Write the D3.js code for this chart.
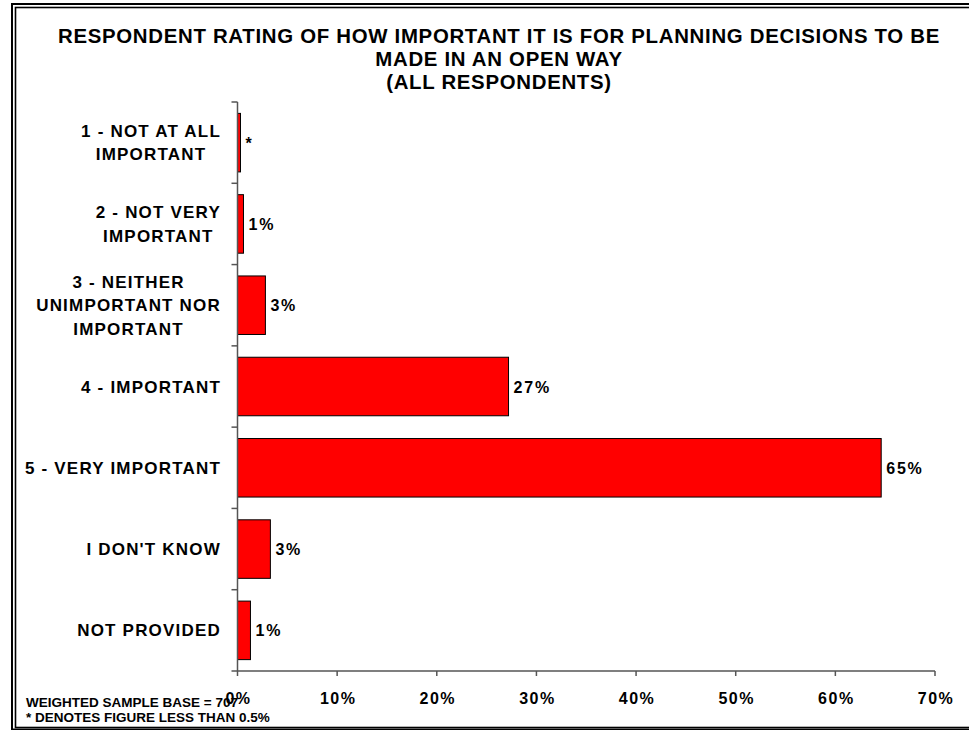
<!DOCTYPE html>
<html>
<head>
<meta charset="utf-8">
<script src="https://cdn.jsdelivr.net/npm/d3@7"></script>
<style>
  html, body { margin: 0; padding: 0; background: #fff; }
  svg { display: block; font-family: "Liberation Sans", Arial, sans-serif; font-weight: bold; }
</style>
</head>
<body>
<svg id="chart" width="969" height="730"></svg>
<script>
// Chart content
const titleLines = [
  "RESPONDENT RATING OF HOW IMPORTANT IT IS FOR PLANNING DECISIONS TO BE",
  "MADE IN AN OPEN WAY",
  "(ALL RESPONDENTS)"
];
const categories = [
  ["1 - NOT AT ALL", "IMPORTANT"],
  ["2 - NOT VERY", "IMPORTANT"],
  ["3 - NEITHER", "UNIMPORTANT NOR", "IMPORTANT"],
  ["4 - IMPORTANT"],
  ["5 - VERY IMPORTANT"],
  ["I DON'T KNOW"],
  ["NOT PROVIDED"]
];
const values = [0.3, 0.6, 2.8, 27.2, 64.6, 3.3, 1.3];   // percent of respondents
const xTicks = [0, 10, 20, 30, 40, 50, 60, 70];
const notes = ["WEIGHTED SAMPLE BASE = 707", "* DENOTES FIGURE LESS THAN 0.5%"];

const svg = d3.select("#chart");

// Double frame around the figure
svg.append("rect").attr("x", 12).attr("y", 4).attr("width", 970).attr("height", 725.5)
  .attr("fill", "none").attr("stroke", "#000").attr("stroke-width", 2);
svg.append("rect").attr("x", 15.5).attr("y", 7.5).attr("width", 960).attr("height", 720)
  .attr("fill", "none").attr("stroke", "#000").attr("stroke-width", 1.6);

// Title
svg.append("g").selectAll("text").data(titleLines).join("text")
  .attr("x", 499).attr("y", (d, i) => 43 + i * 23)
  .attr("text-anchor", "middle")
  .attr("font-size", 20.4).attr("letter-spacing", 0.7)
  .attr("fill", "#000")
  .text(d => d);

// Plot geometry
const x0 = 237.5, x1 = 935, yTop = 102, yBot = 671;
const x = d3.scaleLinear().domain([0, 70]).range([x0, x1]);
const y = d3.scaleBand().domain(d3.range(categories.length)).range([yTop, yBot])
  .paddingInner(0.28).paddingOuter(0.14);
const band = d3.scaleBand().domain(d3.range(categories.length)).range([yTop, yBot]);

// Bars
svg.append("g").selectAll("rect").data(values).join("rect")
  .attr("x", x(0)).attr("y", (d, i) => y(i))
  .attr("width", d => x(d) - x(0)).attr("height", y.bandwidth())
  .attr("fill", "#ff0000").attr("stroke", "#000").attr("stroke-width", 1);

// Value labels (values under 0.5% are shown as an asterisk)
const fmtVal = v => v < 0.5 ? "*" : Math.round(v) + "%";
svg.append("g").selectAll("text").data(values).join("text")
  .attr("x", d => x(d) + 5)
  .attr("y", (d, i) => y(i) + y.bandwidth() / 2 + 6)
  .attr("font-size", 16).attr("letter-spacing", 1.8)
  .attr("fill", "#000")
  .text(fmtVal);

// Category axis (left), ticks between categories
const axisColor = "#555";
const yAxis = svg.append("g");
yAxis.append("line").attr("x1", x0).attr("x2", x0).attr("y1", yTop).attr("y2", yBot)
  .attr("stroke", axisColor).attr("stroke-width", 1.5);
yAxis.selectAll("line.tick").data(d3.range(categories.length + 1)).join("line")
  .attr("class", "tick")
  .attr("x1", x0 - 6).attr("x2", x0)
  .attr("y1", i => i < categories.length ? band(i) : yBot)
  .attr("y2", i => i < categories.length ? band(i) : yBot)
  .attr("stroke", axisColor).attr("stroke-width", 1.5);

// Category labels: lines centred on each other, block right-aligned to the axis
const labelRight = 221, lineH = 23.3, capH = 12;
categories.forEach((lines, i) => {
  const g = svg.append("g");
  const texts = g.selectAll("text").data(lines).join("text")
    .attr("font-size", 17).attr("letter-spacing", 1.2)
    .attr("text-anchor", "middle").attr("fill", "#000")
    .text(d => d);
  let maxW = 0;
  texts.each(function () { maxW = Math.max(maxW, this.getComputedTextLength()); });
  const cy = band(i) + band.bandwidth() / 2;
  texts.attr("x", labelRight - maxW / 2)
    .attr("y", (d, j) => cy + (j - (lines.length - 1) / 2) * lineH + capH / 2);
});

// Value axis (bottom)
const xAxis = svg.append("g");
xAxis.append("line").attr("x1", x0).attr("x2", x1).attr("y1", yBot).attr("y2", yBot)
  .attr("stroke", axisColor).attr("stroke-width", 1.5);
xAxis.selectAll("line.tick").data(xTicks).join("line")
  .attr("class", "tick")
  .attr("x1", d => x(d)).attr("x2", d => x(d))
  .attr("y1", yBot).attr("y2", yBot + 5)
  .attr("stroke", axisColor).attr("stroke-width", 1.5);
xAxis.selectAll("text").data(xTicks).join("text")
  .attr("x", d => x(d) + 1).attr("y", 704)
  .attr("text-anchor", "middle")
  .attr("font-size", 16).attr("letter-spacing", 1.5)
  .attr("fill", "#000")
  .text(d => d + "%");

// Footnotes
svg.append("g").selectAll("text").data(notes).join("text")
  .attr("x", 26).attr("y", (d, i) => 707 + i * 15)
  .attr("font-size", 13.5)
  .attr("fill", "#000")
  .text(d => d);
</script>
</body>
</html>
